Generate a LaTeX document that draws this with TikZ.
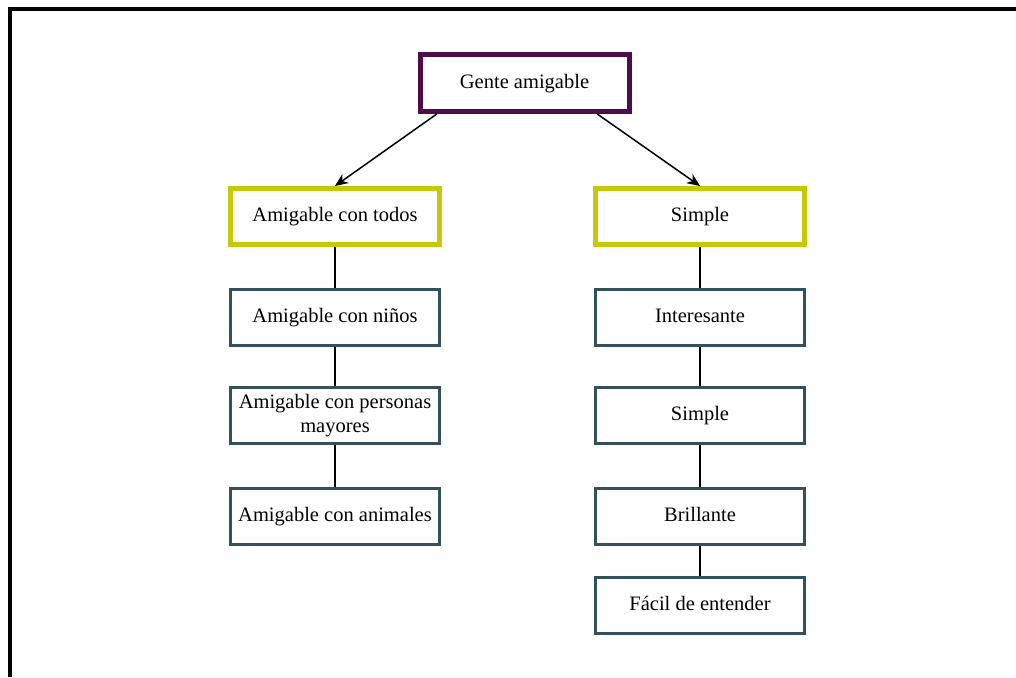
\documentclass[tikz,border=0pt]{standalone}
\usepackage{fontspec}
\setmainfont{Liberation Serif}
\usetikzlibrary{arrows.meta,calc}
\definecolor{rootcol}{HTML}{4E0C4E}
\definecolor{headcol}{HTML}{C6C80A}
\definecolor{itemcol}{HTML}{33505E}
\tikzset{
  box/.style={draw, fill=white, rectangle, inner sep=0pt, align=center,
    minimum width=209pt, minimum height=56pt,
    font=\fontsize{20.5}{24.5}\selectfont},
  oneline/.style={text height=14.5pt, text depth=4.5pt},
  rootbox/.style={box, oneline, draw=rootcol, line width=5pt, minimum height=57pt},
  headbox/.style={box, oneline, draw=headcol, line width=5pt},
  itembox/.style={box, draw=itemcol, line width=3pt, minimum height=56pt},
  link/.style={draw=black, line width=1.5pt},
  arrowlink/.style={link, -{Stealth[length=13pt,width=11pt]}}
}
\begin{document}
\begin{tikzpicture}[x=1pt,y=-1pt]
  \useasboundingbox (0,0) rectangle (1016,677);
  % frame along the left and top edges
  \draw[line width=3.6pt, black] (10,677) -- (10,8.8) -- (1016,8.8);

  \node[rootbox] (root) at (524.5,83) {Gente amigable};

  \node[headbox] (amig) at (335,216.5) {Amigable con todos};
  \node[headbox] (simp) at (700,216.5) {Simple};

  \node[itembox, oneline] (ninos)   at (335,317.5) {Amigable con niños};
  \node[itembox]          (mayores) at (335,415.5) {Amigable con personas\\mayores};
  \node[itembox, oneline] (anim)    at (335,516)   {Amigable con animales};

  \node[itembox, oneline] (inter)   at (700,317.5) {Interesante};
  \node[itembox, oneline] (simp2)   at (700,415.5) {Simple};
  \node[itembox, oneline] (brill)   at (700,516)   {Brillante};
  \node[itembox, oneline] (facil)   at (700,605.5) {Fácil de entender};

  \draw[arrowlink] ($(root.south west)!0.09!(root.south east)$) -- (amig.north);
  \draw[arrowlink] ($(root.south west)!0.84!(root.south east)$) -- (simp.north);

  \draw[link] (amig.south) -- (ninos.north);
  \draw[link] (ninos.south) -- (mayores.north);
  \draw[link] (mayores.south) -- (anim.north);

  \draw[link] (simp.south) -- (inter.north);
  \draw[link] (inter.south) -- (simp2.north);
  \draw[link] (simp2.south) -- (brill.north);
  \draw[link] (brill.south) -- (facil.north);
\end{tikzpicture}
\end{document}
